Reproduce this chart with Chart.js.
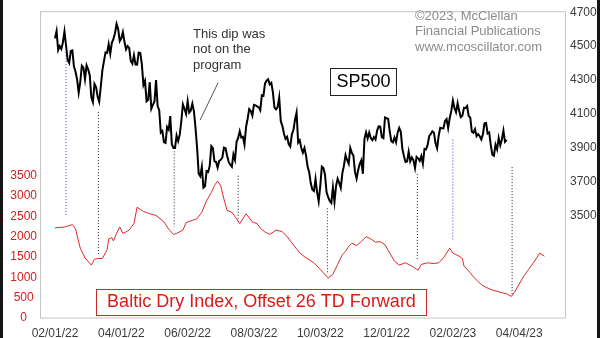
<!DOCTYPE html>
<html>
<head>
<meta charset="utf-8">
<script src="https://cdn.jsdelivr.net/npm/chart.js@4/dist/chart.umd.min.js"></script>
<style>
    html, body { margin: 0; padding: 0; background: #fff; }
    #wrap { width: 600px; height: 338px; }
</style>
</head>
<body>
<div id="wrap"><canvas id="myChart" width="600" height="338"></canvas></div>
<script>
// =====================
// Data (x = trading days since 02/01/22)
// =====================
const dateLabels = ['02/01/22', '04/01/22', '06/02/22', '08/03/22', '10/03/22', '12/01/22', '02/02/23', '04/04/23'];
const daysPerLabel = 42;
const bdiTicks = [0, 500, 1000, 1500, 2000, 2500, 3000, 3500];
const spxTicks = [3500, 3700, 3900, 4100, 4300, 4500, 4700];

// SP500 daily closes, Feb 2022 -> Dec 2022
const spx2022 = [
    4546, 4589, 4477, 4501, 4484, 4522, 4587, 4504, 4419, 4401, 4472, 4475, 4380, 4349, 4305, 4226, 4289, 4385, 4374,
    4306, 4387, 4364, 4329, 4201, 4171, 4278, 4260, 4204, 4173, 4262, 4358, 4412, 4463, 4461, 4512, 4456, 4520, 4543, 4576, 4632, 4602, 4530,
    4546, 4583, 4526, 4481, 4500, 4488, 4413, 4397, 4447, 4392, 4391, 4463, 4460, 4394, 4272, 4296, 4175, 4184, 4288, 4132,
    4155, 4175, 4300, 4147, 4123, 3991, 4001, 3935, 3930, 4024, 4008, 4088, 3923, 3901, 3901, 3974, 3941, 3979, 4058, 4158, 4132,
    4101, 4177, 4109, 4121, 4161, 4116, 4018, 3901, 3750, 3735, 3790, 3667, 3675, 3765, 3760, 3796, 3912, 3900, 3821, 3819, 3785,
    3825, 3831, 3845, 3903, 3899, 3855, 3819, 3802, 3790, 3863, 3831, 3937, 3960, 3999, 3962, 3967, 3921, 4024, 4073, 4130,
    4119, 4091, 4155, 4152, 4145, 4140, 4122, 4210, 4207, 4280, 4297, 4305, 4275, 4284, 4228, 4138, 4128, 4141, 4199, 4058, 4031, 3986, 3955,
    3967, 3924, 3909, 3980, 4006, 4067, 4110, 3933, 3946, 3901, 3873, 3900, 3856, 3790, 3758, 3693, 3655, 3647, 3719, 3640, 3586,
    3678, 3791, 3783, 3744, 3640, 3612, 3589, 3577, 3670, 3583, 3677, 3720, 3695, 3666, 3753, 3797, 3859, 3830, 3808, 3901, 3872,
    3856, 3760, 3720, 3771, 3807, 3828, 3749, 3956, 3993, 3957, 3992, 3959, 3947, 3965, 3950, 4003, 4028, 4026, 3964, 3958, 4080,
    4076, 4072, 3999, 3941, 3934, 3963, 3934, 3991, 4019, 3996, 3896, 3852, 3818, 3821, 3879, 3822, 3845, 3829, 3783, 3849, 3840
];
// SP500 daily closes, Jan 2023 -> 03/23/23
const spx2023 = [
    3825, 3853, 3808, 3895, 3893, 3919, 3970, 3983, 3999, 3991, 3929, 3899, 3973, 4020, 4017, 4016, 4060, 4071, 4018, 4077,
    4119, 4180, 4136, 4111, 4164, 4118, 4082, 4090, 4137, 4136, 4148, 4090, 4079, 3997, 3991, 4012, 3970, 3982, 3970,
    3951, 3981, 4046, 4048, 3986, 3992, 3918, 3862, 3855, 3920, 3892, 3960, 3917, 3951, 4003, 3937, 3948
];

// Baltic Dry Index, shifted 26 trading days forward
const bdiDay = [
    0, 6, 11, 13, 16, 19, 23, 25, 27, 30, 33, 34, 36, 37, 39, 41, 43, 45, 47, 50,
    52, 56, 60, 64, 69, 72, 75, 77, 81, 83, 87, 90, 93, 96, 99, 101, 103, 105, 107, 109,
    112, 115, 117, 119, 121, 125, 128, 130, 133, 136, 140, 144, 147, 151, 155, 159, 164, 168, 173, 176,
    179, 182, 184, 186, 188, 191, 194, 197, 200, 203, 206, 209, 212, 215, 218, 222, 226, 230, 232, 236,
    240, 243, 246, 248, 250, 252, 256, 258, 259, 262, 265, 268, 271, 275, 278, 282, 286, 289, 291, 294,
    297, 300, 303, 305, 307, 310
];
const bdiValue = [
    2220, 2240, 2300, 2196, 1720, 1480, 1303, 1448, 1465, 1465, 1682, 1947, 1979, 1899, 2083, 2244, 2083, 2120, 2164, 2324,
    2727, 2623, 2566, 2525, 2365, 2188, 2059, 2083, 2164, 2348, 2405, 2445, 2606, 2888, 3089, 3265, 3371, 3250, 2928, 2647,
    2606, 2445, 2324, 2445, 2566, 2365, 2324, 2212, 2116, 2059, 2164, 2124, 2003, 1802, 1600, 1480, 1359, 1199, 982, 1078,
    1320, 1561, 1641, 1761, 1841, 1785, 1882, 2003, 1947, 1866, 1882, 1802, 1600, 1400, 1303, 1359, 1279, 1175, 1320, 1359,
    1339, 1359, 1480, 1600, 1720, 1600, 1520, 1464, 1279, 1158, 1014, 893, 796, 717, 676, 635, 595, 531, 635, 837,
    1038, 1199, 1359, 1480, 1600, 1520
];

// Dotted turning-point lines (SP500 scale units)
const markerDay = [7, 27.5, 75.5, 116, 172.5, 229.5, 252, 289.5];
const markerTop = [4465, 4112, 3881, 3737, 3546, 3748, 3950, 3788];
const markerBottom = [3506, 3269, 3437, 3454, 3160, 3235, 3362, 3038];

// "This dip was not on the program" pointer
const calloutDay = [103.3, 91.9];
const calloutSpx = [4285, 4065];

// =====================
// Build datasets
// =====================
const FONT = "'Liberation Sans', Arial, sans-serif";
const spx = spx2022.concat(spx2023);
const spxPoints = spx.map((v, i) => ({x: i, y: v}));
const bdiPoints = bdiDay.map((d, i) => ({x: d, y: bdiValue[i]}));

const markerSets = markerDay.map((d, i) => ({
    label: 'marker' + i,
    data: [{x: d, y: markerTop[i]}, {x: d, y: markerBottom[i]}],
    yAxisID: 'ySpx',
    borderColor: (i === 0 || i === 6) ? '#3a3ad0' : '#222',
    borderWidth: 1,
    borderDash: [1, 2],
    pointRadius: 0,
    order: 5
}));

// =====================
// Frame and text labels
// =====================
const decorations = {
    id: 'decorations',
    beforeDraw(chart) {
        const ctx = chart.ctx;
        const a = chart.chartArea;
        ctx.save();
        ctx.fillStyle = '#fff';
        ctx.fillRect(0, 0, chart.width, chart.height);
        ctx.strokeStyle = '#c4c4c4';
        ctx.lineWidth = 1;
        ctx.strokeRect(a.left + 0.5, a.top - 0.5, a.right - a.left, a.bottom - a.top + 0.5);
        ctx.restore();
    },
    afterDraw(chart) {
        const ctx = chart.ctx;
        ctx.save();
        ctx.fillStyle = '#151515';
        ctx.fillRect(0, 0, 3, chart.height);
        ctx.fillRect(597, 0, 3, chart.height);

        ctx.textBaseline = 'middle';
        ctx.textAlign = 'left';
        ctx.font = '13px ' + FONT;
        ctx.fillStyle = '#8c8c8c';
        ['\u00a92023, McClellan', 'Financial Publications', 'www.mcoscillator.com'].forEach((t, i) => {
            ctx.fillText(t, 415, 16 + i * 15.5);
        });

        ctx.fillStyle = '#333';
        ['This dip was', 'not on the', 'program'].forEach((t, i) => {
            ctx.fillText(t, 193, 34 + i * 15.7);
        });

        // SP500 label box
        ctx.strokeStyle = '#222';
        ctx.lineWidth = 1;
        ctx.strokeRect(330.5, 68.5, 66, 27);
        ctx.textAlign = 'center';
        ctx.fillStyle = '#000';
        ctx.font = '18px ' + FONT;
        ctx.fillText('SP500', 363.5, 82.5);

        // BDI label box
        ctx.fillStyle = '#fff';
        ctx.fillRect(96.5, 289.5, 330, 26);
        ctx.strokeStyle = '#d02828';
        ctx.strokeRect(96.5, 289.5, 330, 26);
        ctx.fillStyle = '#d81c1c';
        ctx.fillText('Baltic Dry Index, Offset 26 TD Forward', 261.5, 302.5);
        ctx.restore();
    }
};

// =====================
// Chart
// =====================
const ctx = document.getElementById('myChart').getContext('2d');
const chart = new Chart(ctx, {
    type: 'line',
    data: {
        datasets: [
            {
                label: 'SP500',
                data: spxPoints,
                yAxisID: 'ySpx',
                borderColor: '#000',
                borderWidth: 2,
                pointRadius: 0,
                order: 1
            },
            {
                label: 'Baltic Dry Index',
                data: bdiPoints,
                yAxisID: 'yBdi',
                borderColor: '#e02a2a',
                borderWidth: 1,
                pointRadius: 0,
                order: 2
            },
            {
                label: 'callout',
                data: calloutDay.map((d, i) => ({x: d, y: calloutSpx[i]})),
                yAxisID: 'ySpx',
                borderColor: '#555',
                borderWidth: 1,
                pointRadius: 0,
                order: 3
            },
            ...markerSets
        ]
    },
    options: {
        responsive: false,
        animation: false,
        layout: {padding: {top: 6, left: 0, right: 0, bottom: 0}},
        plugins: {
            legend: {display: false},
            tooltip: {enabled: false}
        },
        scales: {
            x: {
                type: 'linear',
                min: -9.5,
                max: 323,
                grid: {display: false, drawTicks: false},
                border: {display: false},
                afterBuildTicks: axis => {
                    axis.ticks = dateLabels.map((_, i) => ({value: i * daysPerLabel}));
                },
                afterFit: axis => { axis.height = 20; },
                ticks: {
                    autoSkip: false,
                    maxRotation: 0,
                    padding: 8,
                    color: '#3c3c3c',
                    font: {family: FONT, size: 12},
                    callback: v => dateLabels[Math.round(v / daysPerLabel)]
                }
            },
            yBdi: {
                type: 'linear',
                position: 'left',
                min: 0,
                max: 7530,
                grid: {display: false, drawTicks: false},
                border: {display: false},
                afterBuildTicks: axis => {
                    axis.ticks = bdiTicks.map(v => ({value: v}));
                },
                afterFit: axis => { axis.width = 40; },
                ticks: {
                    autoSkip: false,
                    crossAlign: 'center',
                    padding: 3,
                    color: '#d02020',
                    font: {family: FONT, size: 12},
                    callback: v => String(v)
                }
            },
            ySpx: {
                type: 'linear',
                position: 'right',
                min: 2900,
                max: 4700,
                grid: {display: false, drawTicks: false},
                border: {display: false},
                afterBuildTicks: axis => {
                    axis.ticks = spxTicks.map(v => ({value: v}));
                },
                afterFit: axis => { axis.width = 35; },
                ticks: {
                    autoSkip: false,
                    padding: 5,
                    color: '#3c3c3c',
                    font: {family: FONT, size: 12},
                    callback: v => String(v)
                }
            }
        }
    },
    plugins: [decorations]
});
</script>
</body>
</html>
